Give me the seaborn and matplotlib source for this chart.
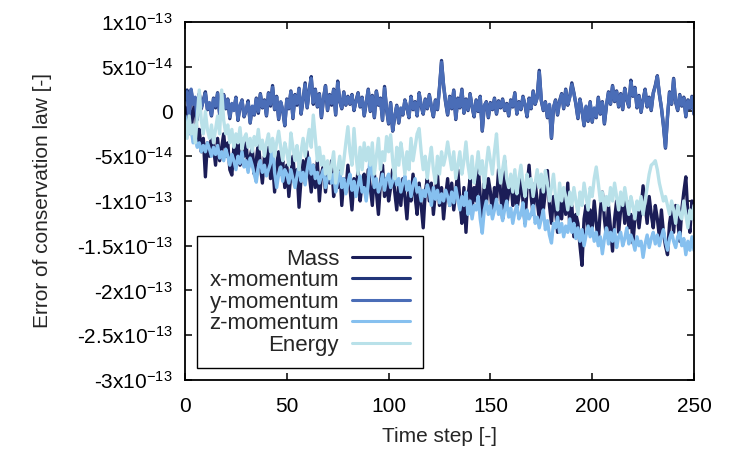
import matplotlib
matplotlib.use('Agg')
import matplotlib.pyplot as plt
import pandas as pd
import seaborn as sns

steps = list(range(0, 251))

mass = [
    0.5, -1.5, 1.5, -2.0, 0.0, 1.3, -3.5, -2.0, -4.5, -3.0,
    -7.3, -3.5, -5.0, -2.5, -4.0, -6.0, -3.0, -5.5, -4.0, -2.5,
    -5.0, -3.5, -6.5, -7.1, -4.0, -5.5, -3.0, -6.0, -4.5, -5.0,
    -3.5, -6.5, -5.0, -4.0, -7.0, -5.5, -3.5, -6.0, -8.0, -5.0,
    -6.5, -4.0, -7.5, -5.5, -9.0, -6.0, -4.5, -7.0, -5.5, -8.5,
    -6.0, -9.5, -7.0, -5.0, -8.0, -6.5, -10.7, -7.5, -5.5, -8.0,
    -4.5, -7.0, -9.0, -6.0, -8.5, -5.5, -10.0, -7.0, -6.0, -9.0,
    -6.5, -8.0, -5.5, -9.5, -7.0, -8.5, -6.0, -10.5, -7.5, -9.0,
    -6.0, -8.5, -11.0, -7.5, -9.0, -6.5, -10.0, -8.0, -7.0, -9.5,
    -6.5, -8.5, -10.5, -7.0, -9.0, -11.5, -8.0, -6.0, -9.5, -7.5,
    -10.0, -8.5, -6.5, -9.0, -11.0, -8.0, -10.5, -7.5, -9.5, -12.0,
    -8.5, -10.0, -7.0, -9.5, -11.5, -8.0, -10.5, -13.0, -9.0, -7.5,
    -10.0, -8.0, -11.5, -9.0, -7.0, -10.5, -8.5, -12.0, -9.5, -7.5,
    -10.5, -8.0, -11.0, -9.0, -6.5, -10.0, -12.5, -8.5, -13.5, -9.5,
    -7.5, -11.0, -8.5, -10.0, -6.0, -9.5, -12.0, -8.0, -10.5, -7.5,
    -9.0, -11.5, -8.5, -10.0, -6.5, -9.0, -12.0, -5.5, -10.5, -9.0,
    -7.5, -10.5, -8.0, -11.0, -9.5, -7.0, -10.0, -12.5, -8.5, -6.0,
    -9.5, -11.5, -8.0, -10.0, -12.0, -8.5, -11.0, -9.0, -6.6, -10.5,
    -12.5, -9.5, -11.0, -13.5, -10.0, -12.0, -9.0, -11.5, -8.0, -13.0,
    -10.5, -14.0, -11.5, -12.5, -15.0, -17.2, -12.0, -10.5, -13.5, -11.0,
    -13.0, -10.0, -12.5, -14.5, -11.0, -9.0, -12.0, -14.0, -10.5, -13.0,
    -15.6, -12.0, -10.0, -13.5, -11.0, -9.5, -12.5, -10.0, -13.0, -11.5,
    -14.7, -12.0, -10.5, -13.0, -11.0, -8.3, -10.5, -12.5, -9.5, -11.5,
    -13.0, -10.5, -12.0, -14.0, -11.0, -13.5, -15.0, -16.0, -12.5, -11.0,
    -13.5, -10.5, -12.0, -14.5, -11.0, -9.0, -7.3, -11.5, -13.5, -10.0,
    -12.0,
]

x_mom = [
    1.3, 2.4, -0.6, 2.3, 0.9, 1.4, -0.9, 2.0, 0.3, 1.3,
    2.2, 0.2, 0.8, -0.5, 1.5, 0.4, 2.1, -0.3, 1.0, 1.9,
    0.3, 1.4, -0.8, 0.8, 0.2, 1.6, -1.0, 0.5, 1.3, -0.6,
    0.1, 1.2, -1.3, 0.5, -0.4, 1.5, -0.2, 2.0, 0.4, 1.3,
    -0.5, 2.1, 0.6, 2.9, 0.2, 1.7, -0.9, 1.0, 0.1, -1.6,
    1.4, 0.3, 2.3, -0.8, 1.9, 0.7, 2.6, -0.3, 1.3, 3.2,
    0.4, 2.4, 3.9, 0.8, 2.5, 0.5, 2.0, -0.7, 1.4, 2.9,
    0.1, 1.9, 0.7, 2.5, -0.4, 3.4, 1.1, 0.3, 2.2, 0.7,
    1.7, 0.8, 1.9, 0.1, 1.2, 2.1, 0.5, 1.6, -0.5, 0.9,
    2.5, 0.0, 1.8, -0.7, 2.3, 0.7, 1.5, -1.0, 2.8, 0.2,
    -1.4, 1.0, -2.2, -0.6, 0.7, -1.3, 0.3, -0.4, 1.3, 0.4,
    -0.7, 1.7, 0.2, 1.1, -0.5, 2.1, 0.6, -0.3, 1.4, 0.3,
    1.9, 0.5, -0.6, 1.3, 0.2, 2.7, 5.7, 2.9, 1.0, -0.4,
    1.7, 0.3, 2.4, -0.9, 1.5, 0.4, 2.5, -0.2, 1.4, 0.1,
    2.0, 0.5, -0.6, 1.3, 0.0, 1.7, -2.2, 0.6, 1.1, -0.7,
    1.0, 0.2, 1.5, -0.3, 1.2, 0.4, 1.4, 0.1, 0.9, -0.5,
    1.3, 0.5, 2.1, -0.3, 1.1, 0.2, 1.7, 0.7, -0.6, 1.5,
    0.3, 2.3, 0.8, 1.6, 4.6, 1.2, 0.1, 1.1, -0.7, 0.7,
    -3.0, 0.4, 1.3, -0.4, 1.2, 2.0, 0.3, 2.5, 0.7, 1.7,
    3.2, 2.1, 0.8, -0.8, 1.4, 0.1, -1.6, 0.5, -1.1, 1.1,
    -1.2, 0.3, -0.7, 1.6, -0.3, 1.1, -1.4, 0.6, 2.2, 0.8,
    2.9, 1.1, 2.3, 0.5, 2.0, 0.2, 2.6, 1.3, 0.5, 3.5,
    1.7, 2.7, 0.4, 1.8, -0.1, 1.3, 2.5, 0.5, 1.6, 0.1,
    2.1, 2.9, 4.0, 1.9, 0.4, -1.6, -4.1, -0.6, 2.2, 0.8,
    3.7, 1.0, 0.1, 1.9, 0.6, 1.6, -0.6, 1.3, 0.3, 1.7,
    -0.3,
]

y_mom = [
    1.5, 2.2, -0.5, 2.5, 0.8, 1.6, -0.8, 1.9, 0.5, 1.2,
    2.0, 0.3, 1.0, -0.4, 1.4, 0.6, 2.0, -0.2, 1.1, 1.8,
    0.4, 1.3, -0.6, 0.9, 0.1, 1.5, -0.9, 0.7, 1.2, -0.5,
    0.2, 1.0, -1.2, 0.6, -0.3, 1.4, 0.0, 1.9, 0.5, 1.2,
    -0.4, 2.0, 0.8, 2.7, 0.3, 1.6, -0.8, 1.1, 0.2, -1.5,
    1.3, 0.4, 2.2, -0.7, 1.8, 0.9, 2.5, -0.2, 1.4, 3.0,
    0.5, 2.3, 3.7, 1.0, 2.4, 0.6, 1.9, -0.6, 1.5, 2.8,
    0.2, 1.8, 0.9, 2.4, -0.3, 3.2, 1.2, 0.4, 2.1, 0.8,
    1.6, 0.9, 1.8, 0.2, 1.1, 2.0, 0.6, 1.5, -0.4, 1.0,
    2.4, 0.1, 1.7, -0.6, 2.2, 0.8, 1.4, -0.9, 2.6, 0.3,
    -1.3, 0.9, -2.1, -0.5, 0.6, -1.2, 0.4, -0.3, 1.2, 0.5,
    -0.6, 1.6, 0.3, 1.0, -0.4, 2.0, 0.7, -0.2, 1.3, 0.4,
    1.8, 0.6, -0.5, 1.2, 0.3, 2.6, 5.5, 3.0, 1.1, -0.3,
    1.6, 0.4, 2.3, -0.8, 1.4, 0.5, 2.4, -0.1, 1.3, 0.2,
    1.9, 0.6, -0.5, 1.2, 0.1, 1.6, -2.1, 0.7, 1.0, -0.6,
    0.9, 0.3, 1.4, -0.2, 1.1, 0.5, 1.3, 0.2, 0.8, -0.4,
    1.2, 0.6, 2.0, -0.2, 1.0, 0.3, 1.6, 0.8, -0.5, 1.4,
    0.4, 2.2, 0.9, 1.5, 4.4, 1.3, 0.2, 1.0, -0.6, 0.8,
    -2.9, 0.5, 1.2, -0.3, 1.1, 1.9, 0.4, 2.4, 0.8, 1.6,
    3.0, 2.0, 0.9, -0.7, 1.3, 0.2, -1.5, 0.6, -1.0, 1.0,
    -1.1, 0.4, -0.6, 1.5, -0.2, 1.0, -1.3, 0.7, 2.1, 0.9,
    2.8, 1.2, 2.2, 0.6, 1.9, 0.3, 2.5, 1.4, 0.6, 3.3,
    1.8, 2.6, 0.5, 1.7, 0.0, 1.2, 2.4, 0.6, 1.5, 0.2,
    2.0, 2.8, 3.9, 2.0, 0.5, -1.5, -4.0, -0.5, 2.1, 0.9,
    3.6, 1.1, 0.2, 1.8, 0.7, 1.5, -0.5, 1.2, 0.4, 1.6,
    -0.2,
]

z_mom = [
    -0.5, -1.5, -2.5, -2.0, -3.5, -3.0, -4.0, -3.5, -4.5, -3.8,
    -4.5, -3.5, -4.2, -5.0, -4.0, -4.8, -3.8, -5.2, -4.5, -5.5,
    -4.2, -5.0, -6.0, -4.8, -5.5, -6.5, -5.0, -5.8, -4.5, -6.2,
    -5.5, -6.8, -5.2, -6.0, -7.0, -7.9, -6.2, -5.5, -6.8, -6.0,
    -7.2, -6.5, -5.8, -3.2, -6.8, -8.5, -7.0, -6.2, -7.8, -6.5,
    -7.0, -8.0, -6.5, -7.5, -8.5, -7.2, -6.0, -7.8, -6.8, -8.2,
    -6.5, -5.2, -7.0, -6.0, -7.5, -6.8, -8.0, -7.2, -6.5, -8.5,
    -7.5, -6.5, -8.0, -7.0, -9.0, -7.8, -6.8, -8.5, -7.5, -9.2,
    -8.0, -7.0, -8.8, -7.8, -9.5, -8.2, -7.2, -9.0, -8.5, -10.0,
    -8.0, -4.5, -7.0, -8.5, -7.5, -9.0, -8.2, -7.0, -8.8, -7.5,
    -7.0, -8.5, -7.8, -6.8, -8.2, -7.5, -9.0, -8.0, -7.2, -8.8,
    -7.8, -9.5, -8.2, -7.5, -9.0, -8.5, -10.0, -8.8, -9.5, -8.2,
    -9.0, -10.5, -8.5, -9.8, -8.8, -10.2, -9.2, -10.0, -8.8, -9.5,
    -10.5, -9.0, -10.2, -8.5, -9.8, -11.0, -9.5, -10.5, -9.0, -11.5,
    -10.0, -12.0, -10.5, -11.0, -9.5, -12.0, -13.6, -11.0, -10.0, -11.5,
    -10.5, -12.0, -11.0, -9.8, -11.5, -10.5, -12.2, -11.0, -10.0, -11.8,
    -10.8, -12.5, -11.2, -10.5, -12.0, -11.5, -10.2, -12.8, -11.0, -12.0,
    -11.5, -10.5, -12.5, -11.8, -13.0, -12.0, -11.0, -13.2, -12.2, -13.8,
    -14.7, -12.5, -13.0, -11.8, -13.5, -12.5, -14.0, -12.8, -13.5, -12.0,
    -13.5, -12.5, -14.2, -13.0, -14.5, -13.2, -15.0, -13.8, -12.8, -14.0,
    -13.0, -14.5, -13.5, -15.0, -14.0, -15.9, -14.2, -13.0, -14.8, -13.5,
    -14.5, -13.2, -15.2, -14.0, -13.5, -15.0, -14.2, -13.0, -14.8, -13.8,
    -14.5, -15.5, -14.0, -15.0, -14.5, -16.3, -14.8, -13.8, -15.2, -14.2,
    -13.5, -14.8, -13.8, -15.0, -14.0, -13.2, -14.5, -15.5, -14.2, -13.5,
    -14.5, -15.2, -14.0, -13.5, -15.0, -14.2, -16.0, -14.5, -15.5, -14.0,
    -15.5,
]

energy = [
    -1.0, -3.0, -0.5, -2.5, -1.5, -3.5, -0.5, 2.4, -1.0, -2.5,
    0.0, -2.0, -3.0, -1.5, -3.5, -2.0, -0.5, -2.5, 2.4, -1.0,
    -2.5, -1.5, -3.5, -2.0, -4.0, -2.5, -3.5, -1.8, -4.2, -3.0,
    -2.5, -4.0, -3.0, -4.5, -2.8, -3.8, -2.0, -4.2, -3.2, -5.0,
    -3.5, -2.5, -4.5, -3.0, -5.0, -3.5, -2.2, -4.0, -5.5, -3.5,
    -4.5, -6.0, -2.4, -4.0, -5.5, -3.8, -6.5, -4.5, -3.0, -5.0,
    -3.5, -2.0, -4.0, -0.4, -3.0, -5.5, -4.0, -6.0, -5.0, -7.0,
    -5.5, -7.5, -6.0, -4.5, -8.0, -6.5, -5.0, -7.0, -5.5, -3.5,
    -1.7, -4.5, -6.0, -1.9, -5.0, -7.0, -4.0, -6.5, -3.5, -5.5,
    -4.0, -6.0, -3.5, -7.0, -5.0, -3.0, -6.5, -4.5, -5.5, -2.8,
    -4.5, -2.6, -5.5, -7.5, -4.0, -6.0, -3.5, -5.0, -7.0, -4.5,
    -6.5, -3.0, -5.5, -4.0, -2.5, -1.9, -4.5, -6.5, -5.0, -7.5,
    -5.5, -4.0, -6.5, -8.0, -5.0, -7.0, -4.5, -6.0, -5.0, -3.4,
    -5.0, -6.5, -4.5, -7.5, -6.0, -4.5, -7.0, -5.5, -3.4, -6.0,
    -7.5, -5.0, -8.0, -6.5, -4.5, -7.0, -5.5, -8.5, -6.0, -4.0,
    -5.5, -7.0, -4.5, -2.5, -6.0, -8.0, -6.5, -5.0, -7.5, -8.5,
    -7.0, -9.0, -6.5, -9.2, -7.5, -6.0, -8.0, -9.5, -7.0, -8.5,
    -7.5, -9.5, -8.0, -6.5, -8.5, -7.0, -9.0, -6.6, -8.0, -10.0,
    -8.5, -7.0, -9.5, -11.0, -8.0, -10.0, -8.5, -9.5, -11.0, -9.0,
    -10.5, -8.5, -10.0, -11.5, -9.0, -10.5, -8.0, -9.5, -11.0, -8.5,
    -9.5, -7.5, -6.2, -8.0, -10.0, -9.0, -11.0, -9.5, -10.5, -8.5,
    -10.0, -8.0, -9.5, -11.0, -9.0, -10.5, -8.5, -10.0, -11.5, -9.5,
    -10.5, -12.0, -10.0, -11.0, -9.5, -11.5, -10.0, -8.5, -7.0, -6.0,
    -5.8, -5.5, -6.5, -8.0, -9.0, -10.0, -9.5, -10.5, -11.5, -10.0,
    -11.0, -12.5, -10.5, -11.5, -12.0, -10.0, -11.5, -13.0, -11.0, -12.0,
    -10.5,
]

series_names = ['Mass', 'x-momentum', 'y-momentum', 'z-momentum', 'Energy']
series_colors = ['#1b1d57', '#22367a', '#4a6db7', '#86c0ef', '#b9e1e9']

x_ticks = [0, 50, 100, 150, 200, 250]
y_ticks = [1e-13, 5e-14, 0, -5e-14, -1e-13, -1.5e-13, -2e-13, -2.5e-13, -3e-13]
y_tick_labels = [r'1x10$^{-13}$', r'5x10$^{-14}$', '0', r'-5x10$^{-14}$',
                 r'-1x10$^{-13}$', r'-1.5x10$^{-13}$', r'-2x10$^{-13}$',
                 r'-2.5x10$^{-13}$', r'-3x10$^{-13}$']

frames = []
for name, vals in zip(series_names, [mass, x_mom, y_mom, z_mom, energy]):
    frames.append(pd.DataFrame({'step': steps,
                                'err': [v * 1e-14 for v in vals],
                                'series': name}))
df = pd.concat(frames, ignore_index=True)

sns.set_style('ticks')
plt.rcParams['font.family'] = ['Liberation Sans', 'DejaVu Sans']
plt.rcParams['mathtext.default'] = 'regular'

fig = plt.figure(figsize=(7.5, 4.5), dpi=100)
ax = fig.add_axes([0.2467, 0.1556, 0.6786, 0.7955])

sns.lineplot(data=df, x='step', y='err', hue='series', hue_order=series_names,
             palette=series_colors, linewidth=2.4, estimator=None,
             errorbar=None, legend=False, ax=ax)

ax.set_xlim(0, 250)
ax.set_ylim(-3e-13, 1e-13)
ax.set_xticks(x_ticks)
ax.set_xticklabels([str(t) for t in x_ticks])
ax.set_yticks(y_ticks)
ax.set_yticklabels(y_tick_labels)
ax.tick_params(direction='in', length=5, width=1.1, top=True, right=True,
               labelsize=15, colors='black')
ax.tick_params(axis='y', pad=9)
ax.tick_params(axis='x', pad=12)
for sp in ax.spines.values():
    sp.set_linewidth(1.3)
    sp.set_color('black')

ax.set_xlabel('Time step [-]', fontsize=15, labelpad=8)
ax.set_ylabel('Error of conservation law [-]', fontsize=15, labelpad=18)

# markerfirst=False puts the labels on the left, right-aligned, like gnuplot
leg = ax.legend(ax.get_lines()[:5], series_names, loc='lower left',
                bbox_to_anchor=(0.0236, 0.0335), borderaxespad=0,
                markerfirst=False, fancybox=False, framealpha=1,
                edgecolor='black', fontsize=16, handlelength=2.6,
                handletextpad=0.6, labelspacing=0.02, borderpad=0.56)
leg.get_frame().set_linewidth(1.0)
for ln in leg.get_lines():
    ln.set_linewidth(2.2)

fig.savefig('out.png', dpi=100)
